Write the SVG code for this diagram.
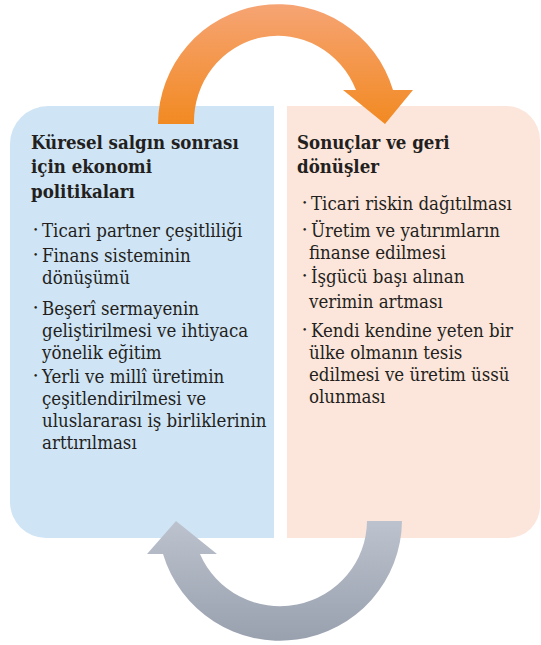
<svg xmlns="http://www.w3.org/2000/svg" width="541" height="645" viewBox="0 0 541 645">
<defs>
<linearGradient id="gOrange" x1="0" y1="0" x2="0" y2="1">
<stop offset="0" stop-color="#f6a474"/>
<stop offset="1" stop-color="#f28a22"/>
</linearGradient>
<linearGradient id="gGray" x1="0" y1="0" x2="0" y2="1">
<stop offset="0" stop-color="#bcc3ce"/>
<stop offset="1" stop-color="#99a0ae"/>
</linearGradient>
<style>
text{font-family:'DejaVu Serif Condensed','DejaVu Serif',serif;fill:#231f20;}
.h{font-size:18.5px;font-weight:bold;}
.b{font-size:18.5px;}
.d{font-size:10px;}
</style>
</defs>
<g id="panel-left">
<path d="M48,106 H274 V538 H46 A36,36 0 0 1 10,502 V144 A38,38 0 0 1 48,106 Z" fill="#cfe4f5"/>
<text class="h" x="31" y="149">Küresel salgın sonrası</text>
<text class="h" x="31" y="173">için ekonomi</text>
<text class="h" x="31" y="198">politikaları</text>
<text class="d" x="33" y="233">•</text>
<text class="b" x="42" y="237">Ticari partner çeşitliliği</text>
<text class="d" x="33" y="258">•</text>
<text class="b" x="42" y="262">Finans sisteminin</text>
<text class="b" x="42" y="284">dönüşümü</text>
<text class="d" x="33" y="311">•</text>
<text class="b" x="42" y="315">Beşerî sermayenin</text>
<text class="b" x="42" y="337">geliştirilmesi ve ihtiyaca</text>
<text class="b" x="42" y="359">yönelik eğitim</text>
<text class="d" x="33" y="379">•</text>
<text class="b" x="42" y="383">Yerli ve millî üretimin</text>
<text class="b" x="42" y="405">çeşitlendirilmesi ve</text>
<text class="b" x="42" y="427">uluslararası iş birliklerinin</text>
<text class="b" x="42" y="449">arttırılması</text>
</g>
<g id="panel-right">
<path d="M287,106 H506 A34,34 0 0 1 540,140 V506 A32,32 0 0 1 508,538 H287 Z" fill="#fce5da"/>
<text class="h" x="297" y="149">Sonuçlar ve geri</text>
<text class="h" x="297" y="173">dönüşler</text>
<text class="d" x="302" y="206">•</text>
<text class="b" x="311" y="210">Ticari riskin dağıtılması</text>
<text class="d" x="302" y="233">•</text>
<text class="b" x="311" y="237">Üretim ve yatırımların</text>
<text class="b" x="309" y="259">finanse edilmesi</text>
<text class="d" x="302" y="279">•</text>
<text class="b" x="311" y="283">İşgücü başı alınan</text>
<text class="b" x="309" y="308">verimin artması</text>
<text class="d" x="302" y="333">•</text>
<text class="b" x="311" y="337">Kendi kendine yeten bir</text>
<text class="b" x="309" y="359">ülke olmanın tesis</text>
<text class="b" x="309" y="381">edilmesi ve üretim üssü</text>
<text class="b" x="309" y="403">olunması</text>
</g>
<g id="connectors">
<path d="M158,124 A120,120 0 0 1 393,90 L413,90 L385,124 L343,90 L356,90 A84,86 0 0 0 194,124 Z" fill="url(#gOrange)"/>
<path d="M402,521 A122,121 0 0 1 163,554 L147,554 L176,521 L217,554 L200,554 A87,86 0 0 0 367,521 Z" fill="url(#gGray)"/>
</g>
</svg>
